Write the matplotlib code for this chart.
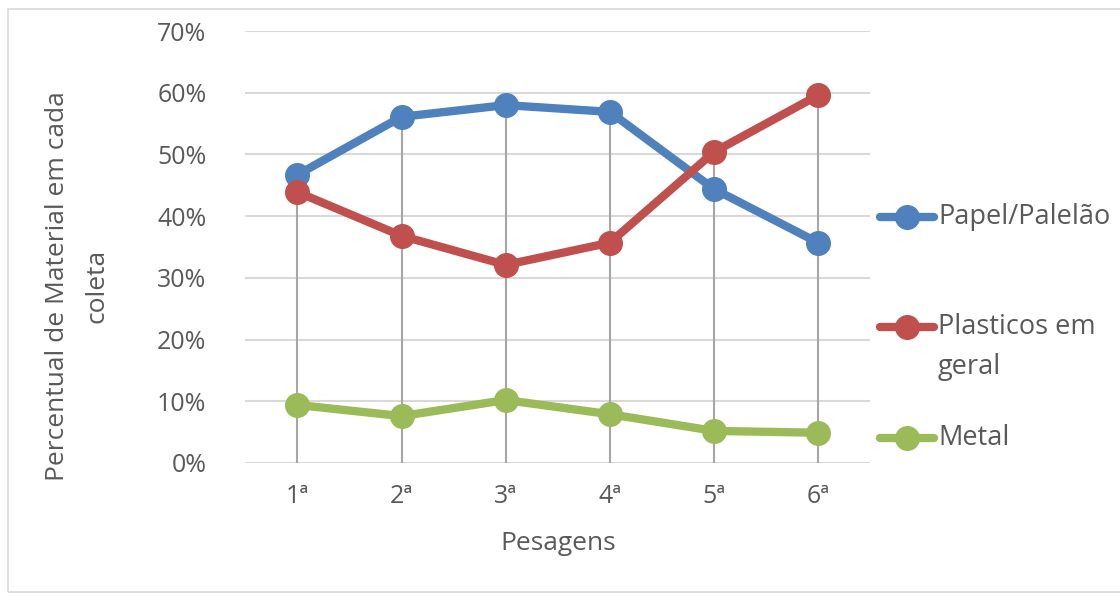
import matplotlib
matplotlib.use("Agg")
import matplotlib.pyplot as plt
from matplotlib.lines import Line2D
from matplotlib.patches import Rectangle
from matplotlib.ticker import PercentFormatter

categories = ["1ª", "2ª", "3ª", "4ª", "5ª", "6ª"]
papel = [46.7, 56.1, 58.0, 56.9, 44.4, 35.7]
plasticos = [43.9, 36.8, 32.1, 35.7, 50.4, 59.6]
metal = [9.4, 7.6, 10.2, 7.9, 5.2, 4.9]
series_labels = ["Papel/Palelão", "Plasticos em\ngeral", "Metal"]
colors = ["#4F81BD", "#C0504D", "#9BBB59"]

plt.rcParams['font.family'] = ['Open Sans', 'DejaVu Sans']
text_color = "#595959"
fs = 18

fig = plt.figure(figsize=(11.2, 5.97), dpi=100)
ax = fig.add_axes([0.219, 0.2245, 0.558, 0.7235])

x = list(range(len(categories)))
all_series = [papel, plasticos, metal]

# drop lines
tops = [max(v) for v in zip(*all_series)]
ax.vlines(x, 0, tops, color="#A6A6A6", linewidth=1.5, zorder=2)

for vals, c in zip(all_series, colors):
    ax.plot(x, vals, color=c, linewidth=6, marker="o", markersize=17,
            solid_capstyle="round", zorder=3)

ax.set_ylim(0, 70)
ax.set_xlim(-0.5, len(categories) - 0.5)
ax.set_yticks(range(0, 71, 10))
ax.yaxis.set_major_formatter(PercentFormatter(decimals=0))
ax.set_xticks(x)
ax.set_xticklabels(categories)
ax.grid(axis="y", color="#D9D9D9", linewidth=1.5, zorder=0)
ax.set_axisbelow(True)
for s in ax.spines.values():
    s.set_visible(False)
ax.tick_params(length=0, labelsize=fs, colors=text_color, pad=15)
ax.tick_params(axis="y", pad=28)
ax.set_xlabel("Pesagens", fontsize=19, color=text_color, labelpad=16)
ax.set_ylabel("Percentual de Material em cada\ncoleta", fontsize=19,
              color=text_color, labelpad=34, linespacing=1.8)
ax.yaxis.label.set_y(0.41)

# chart border
fig.add_artist(Rectangle((8/1120, 1 - 592/597), 1.2, 583/597, transform=fig.transFigure,
                         fill=False, edgecolor="#D9D9D9", linewidth=1.2))

# legend
leg_y = [217, 327, 438]
for lab, c, yy in zip(series_labels, colors, leg_y):
    fy = 1 - yy / 597
    fig.add_artist(Line2D([880/1120, 934/1120], [fy, fy], transform=fig.transFigure,
                          color=c, linewidth=6, solid_capstyle="round"))
    fig.add_artist(Line2D([907/1120], [fy], transform=fig.transFigure,
                          color=c, marker="o", markersize=17, linestyle="none"))
    for i, part in enumerate(lab.split("\n")):
        fig.text(938/1120, fy - i * 40/597, part, fontsize=19.5, color=text_color,
                 va="center", ha="left", transform=fig.transFigure)

fig.savefig("out.png", dpi=100, facecolor="white")
